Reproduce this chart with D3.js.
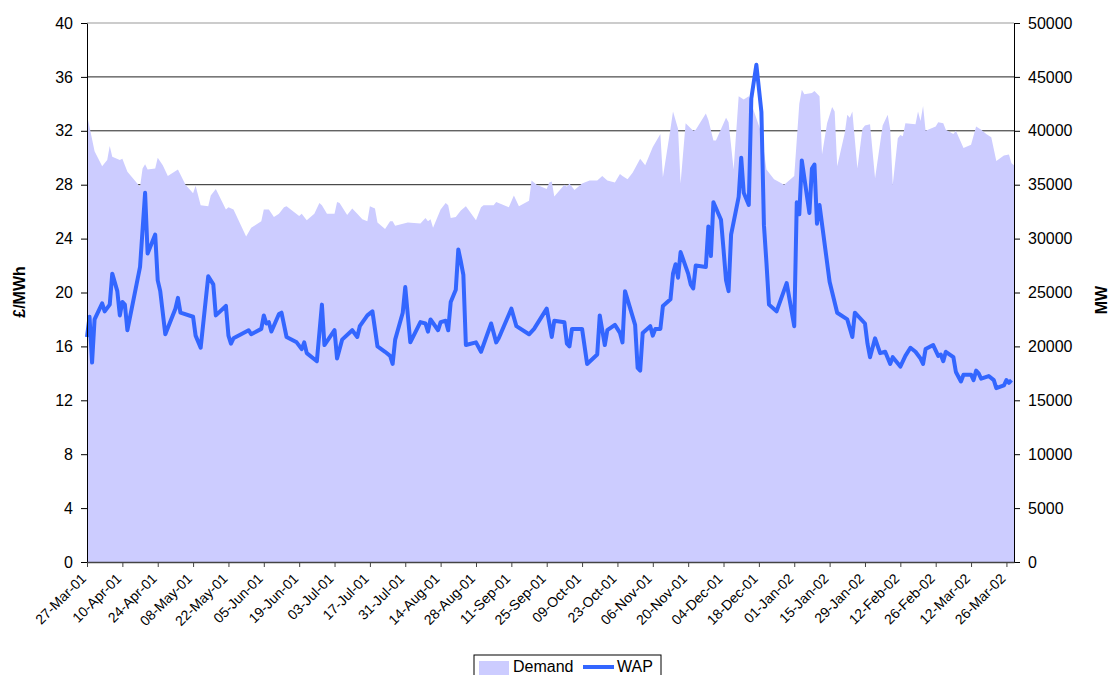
<!DOCTYPE html>
<html>
<head>
<meta charset="utf-8">
<script src="https://cdn.jsdelivr.net/npm/d3@7"></script>
<style>
body { margin: 0; background: #fff; }
text { font-family: "Liberation Sans", Arial, sans-serif; fill: #000; }
</style>
</head>
<body>
<svg width="1109" height="675"></svg>
<script>
// first day of the series; all x values are day offsets from here
var startDate = new Date(Date.UTC(2001, 2, 27));

// demand (MW)
var demandDay = [0, 3, 6, 8, 9, 10, 13, 14, 16, 21, 22, 23, 24, 27, 28, 30, 32, 36, 39, 42,
  43, 45, 48, 49, 51, 55, 56, 58, 63, 65, 69, 70, 72, 74, 76, 78, 79, 84, 85, 87,
  90, 92, 93, 95, 98, 99, 100, 103, 105, 107, 109, 111, 112, 114, 115, 118, 120, 121, 122, 127,
  132, 134, 135, 136, 137, 140, 142, 143, 144, 146, 148, 150, 154, 156, 157, 161, 162, 167, 169, 171,
  175, 176, 178, 182, 183, 184, 185, 189, 190, 191, 193, 196, 199, 202, 204, 206, 209, 211, 212, 214,
  216, 219, 221, 224, 227, 228, 231, 232, 234, 235, 237, 240, 241, 245, 246, 248, 249, 253, 254, 256,
  258, 260, 262, 267, 269, 272, 276, 280, 282, 283, 284, 287, 288, 290, 291, 293, 295, 296, 297, 300,
  301, 302, 303, 305, 307, 308, 310, 312, 315, 317, 318, 319, 321, 322, 323, 324, 328, 329, 330, 331,
  332, 336, 337, 339, 340, 343, 344, 347, 350, 352, 354, 356, 358, 360, 363, 365, 366, 367];
var demandMW = [41500, 38100, 36700, 37300, 38600, 37600, 37300, 37400, 36200, 34800, 36500, 36900, 36400, 36500, 37500, 36800, 35800, 36400, 35000, 34200,
  34900, 33100, 33000, 34000, 34600, 32700, 32900, 32700, 30200, 31000, 31600, 32700, 32700, 32000, 32300, 32900, 33000, 32100, 32300, 31700,
  32300, 33300, 33100, 32300, 32300, 33400, 33300, 32200, 32800, 32300, 31800, 31600, 33000, 32800, 31500, 30900, 31600, 31600, 31200, 31500,
  31400, 31900, 31600, 31800, 31000, 32700, 33300, 33100, 31900, 32000, 32600, 33000, 31700, 32900, 33100, 33100, 33400, 32900, 34000, 33000,
  33500, 35400, 35000, 34600, 35200, 35300, 33900, 35000, 34800, 35100, 34500, 35100, 35400, 35400, 35800, 35400, 35200, 36000, 35800, 35500,
  36100, 37400, 36800, 38500, 39700, 35700, 40200, 41800, 40200, 35100, 40700, 40000, 40100, 41600, 41000, 39100, 39100, 41200, 40800, 36400,
  43200, 42900, 43200, 39800, 36400, 35500, 35000, 35800, 42500, 43800, 43400, 43500, 43700, 43200, 37800, 40700, 42200, 41800, 36700, 39800,
  41500, 41200, 41800, 36500, 40200, 40500, 40600, 35600, 40500, 41500, 40100, 35000, 39300, 39600, 39500, 40700, 40600, 41800, 40900, 42300,
  40000, 40400, 40800, 40700, 40100, 39700, 40000, 38400, 38700, 40400, 40100, 39700, 39400, 37200, 37700, 37800, 37000, 36800];

// weighted average price (£/MWh)
var wapDay = [0, 1, 2, 3, 6, 7, 9, 10, 12, 13, 14, 15, 16, 21, 23, 24, 27, 28, 29, 31,
  35, 36, 37, 42, 43, 45, 48, 50, 51, 55, 56, 57, 58, 64, 65, 69, 70, 71, 72, 73,
  76, 77, 79, 83, 85, 86, 87, 91, 93, 94, 98, 99, 101, 105, 107, 108, 111, 113, 115, 118,
  120, 121, 122, 125, 126, 128, 132, 134, 135, 136, 139, 140, 142, 143, 144, 146, 147, 148, 149, 150,
  154, 156, 160, 162, 163, 168, 170, 175, 177, 182, 184, 185, 189, 190, 191, 192, 196, 198, 202, 203,
  205, 206, 209, 211, 212, 213, 217, 218, 219, 220, 223, 224, 225, 227, 228, 231, 232, 233, 234, 235,
  238, 239, 240, 241, 245, 246, 247, 248, 251, 252, 253, 254, 255, 258, 259, 260, 262, 263, 265, 267,
  268, 269, 270, 273, 277, 280, 281, 282, 283, 286, 287, 288, 289, 290, 294, 297, 301, 303, 304, 308,
  309, 310, 312, 314, 316, 318, 319, 322, 324, 326, 328, 330, 331, 332, 335, 337, 338, 339, 340, 343,
  344, 346, 347, 350, 351, 352, 353, 354, 357, 359, 360, 363, 364, 365, 366];
var wapPrice = [16.7, 18.2, 14.8, 18.0, 19.2, 18.6, 19.1, 21.4, 20.1, 18.3, 19.3, 19.1, 17.2, 21.9, 27.4, 22.9, 24.3, 20.9, 20.1, 16.9,
  18.8, 19.6, 18.5, 18.2, 16.8, 15.9, 21.2, 20.6, 18.3, 19.0, 16.8, 16.2, 16.6, 17.2, 16.9, 17.3, 18.3, 17.7, 17.8, 17.1,
  18.4, 18.5, 16.7, 16.3, 15.8, 16.3, 15.5, 14.9, 19.1, 16.1, 17.2, 15.1, 16.5, 17.2, 16.7, 17.5, 18.3, 18.6, 16.0, 15.6,
  15.3, 14.7, 16.5, 18.5, 20.4, 16.3, 17.8, 17.7, 17.1, 18.0, 17.2, 17.8, 17.9, 17.2, 19.3, 20.2, 23.2, 22.3, 21.3, 16.1,
  16.3, 15.6, 17.7, 16.3, 16.6, 18.8, 17.5, 16.9, 17.3, 18.8, 16.7, 17.9, 17.8, 16.2, 16.0, 17.3, 17.3, 14.7, 15.4, 18.3,
  16.1, 17.2, 17.6, 17.0, 16.3, 20.1, 17.6, 14.4, 14.2, 17.0, 17.5, 16.8, 17.3, 17.3, 19.0, 19.5, 21.4, 22.1, 21.1, 23.0,
  21.4, 20.6, 20.3, 22.0, 21.9, 24.9, 22.7, 26.7, 25.4, 23.2, 20.9, 20.1, 24.3, 27.1, 30.0, 27.4, 26.5, 34.4, 36.9, 33.4,
  25.0, 22.2, 19.1, 18.6, 20.7, 17.5, 26.7, 25.8, 29.8, 25.9, 29.2, 29.5, 25.1, 26.5, 20.8, 18.5, 18.0, 16.7, 18.5, 17.7,
  16.2, 15.2, 16.6, 15.5, 15.6, 14.7, 15.2, 14.5, 15.3, 15.9, 15.6, 15.1, 14.7, 15.8, 16.1, 15.3, 15.4, 14.9, 15.6, 15.2,
  14.1, 13.4, 13.9, 13.9, 13.5, 14.2, 14.0, 13.6, 13.8, 13.5, 12.9, 13.1, 13.5, 13.3, 13.5];

var priceTicks = [0, 4, 8, 12, 16, 20, 24, 28, 32, 36, 40];
var mwTicks = [0, 5000, 10000, 15000, 20000, 25000, 30000, 35000, 40000, 45000, 50000];
var dateTickDays = d3.range(0, 365, 14); // 27-Mar-01 ... 26-Mar-02, fortnightly

var svg = d3.select("svg");
var plotL = 87, plotR = 1014, plotT = 23, plotB = 562;

var dayToDate = function(d) { return d3.utcDay.offset(startDate, d); };

var x = d3.scaleUtc()
  .domain([startDate, dayToDate(367)])
  .range([plotL, plotR]);
var yL = d3.scaleLinear().domain([0, 40]).range([plotB, plotT]);
var yR = d3.scaleLinear().domain([0, 50000]).range([plotB, plotT]);

var demand = demandDay.map(function(d, i) { return { date: dayToDate(d), v: demandMW[i] }; });
var wap = wapDay.map(function(d, i) { return { date: dayToDate(d), v: wapPrice[i] }; });

// gridlines (hidden by the area where demand is higher)
svg.append("g")
  .selectAll("line")
  .data(priceTicks.filter(function(t) { return t > 0; }))
  .join("line")
  .attr("x1", plotL).attr("x2", plotR)
  .attr("y1", function(t) { return yL(t); })
  .attr("y2", function(t) { return yL(t); })
  .attr("stroke", function(t) { return t === 40 ? "#999" : "#222"; })
  .attr("stroke-width", 1);

var area = d3.area()
  .x(function(d) { return x(d.date); })
  .y0(plotB)
  .y1(function(d) { return yR(d.v); });

svg.append("path")
  .datum(demand)
  .attr("fill", "#ccccff")
  .attr("d", area);

var line = d3.line()
  .x(function(d) { return x(d.date); })
  .y(function(d) { return yL(d.v); });

svg.append("path")
  .datum(wap)
  .attr("fill", "none")
  .attr("stroke", "#3366ff")
  .attr("stroke-width", 4)
  .attr("stroke-linejoin", "round")
  .attr("d", line);

// axes
var axL = svg.append("g")
  .attr("transform", "translate(" + plotL + ",0)")
  .call(d3.axisLeft(yL).tickValues(priceTicks).tickSize(6).tickSizeOuter(0).tickPadding(8));
var axR = svg.append("g")
  .attr("transform", "translate(" + plotR + ",0)")
  .call(d3.axisRight(yR).tickValues(mwTicks).tickFormat(d3.format("d"))
    .tickSize(6).tickSizeOuter(0).tickPadding(8));
var fmt = d3.utcFormat("%d-%b-%y");
var axB = svg.append("g")
  .attr("transform", "translate(0," + plotB + ")")
  .call(d3.axisBottom(x).tickValues(dateTickDays.map(dayToDate)).tickFormat(fmt).tickSize(5).tickSizeOuter(0));

[axL, axR].forEach(function(a) {
  a.selectAll("text").style("font-size", "16px");
  a.select(".domain").attr("stroke", "#000");
});
axB.select(".domain").attr("stroke", "#444").attr("stroke-width", 1.5);
axB.selectAll("line").attr("stroke", "#444");
axB.selectAll("text")
  .style("font-size", "14px")
  .attr("text-anchor", "end")
  .attr("y", 0).attr("dy", "0.35em")
  .attr("transform", "translate(-4,14) rotate(-45)");

// axis titles
svg.append("text")
  .attr("transform", "translate(25,292) rotate(-90)")
  .attr("text-anchor", "middle")
  .style("font-size", "16px").style("font-weight", "bold")
  .text("£/MWh");
svg.append("text")
  .attr("transform", "translate(1107,300) rotate(-90)")
  .attr("text-anchor", "middle")
  .style("font-size", "16px").style("font-weight", "bold")
  .text("MW");

// legend
var lg = svg.append("g").attr("transform", "translate(474,655)");
lg.append("rect").attr("width", 187).attr("height", 30)
  .attr("fill", "#fff").attr("stroke", "#000");
lg.append("rect").attr("x", 5).attr("y", 6).attr("width", 30).attr("height", 14)
  .attr("fill", "#ccccff");
lg.append("text").attr("x", 39).attr("y", 17).style("font-size", "16px").text("Demand");
lg.append("line").attr("x1", 109).attr("x2", 140).attr("y1", 12).attr("y2", 12)
  .attr("stroke", "#3366ff").attr("stroke-width", 4);
lg.append("text").attr("x", 143).attr("y", 17).style("font-size", "16px").text("WAP");
</script>
</body>
</html>
